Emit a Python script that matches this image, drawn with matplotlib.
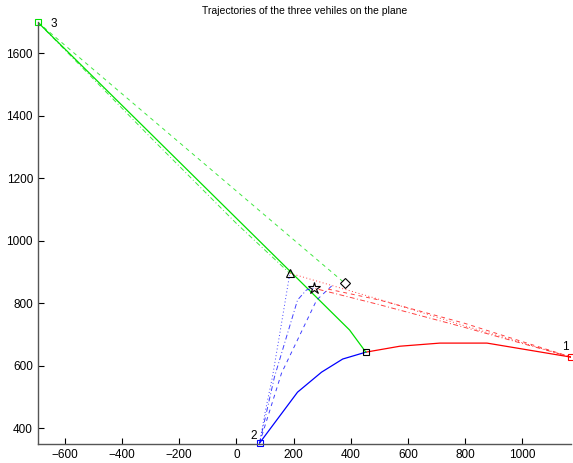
import matplotlib
matplotlib.use("Agg")
import matplotlib.pyplot as plt

# start points of the three vehicles
start_x = [1172, 81, -695]
start_y = [627, 352, 1699]
start_colors = ["red", "blue", "#00e000"]
start_labels = ["1", "2", "3"]

# meeting points
meet_x = [453]
meet_y = [643]
triangle_x, triangle_y = [186], [896]
star_x, star_y = [270], [848]
diamond_x, diamond_y = [379], [864]

# solid trajectories
red_solid_x = [453, 572, 712, 877, 1172]
red_solid_y = [643, 662, 672, 672, 627]
blue_solid_x = [81, 214, 298, 372, 453]
blue_solid_y = [352, 515, 579, 621, 643]
green_solid_x = [-695, 396, 453]
green_solid_y = [1699, 714, 643]

# dotted trajectories (triangle)
blue_dot_x = [81, 102, 126, 154, 186]
blue_dot_y = [352, 458, 563, 714, 890]
red_dot_x = [1172, 800, 500, 186]
red_dot_y = [627, 727, 812, 896]

# dash-dot trajectories (star)
blue_dd_x = [81, 133, 214, 245, 270]
blue_dd_y = [352, 563, 810, 842, 848]
red_dd_x = [1172, 800, 500, 270]
red_dd_y = [627, 722, 795, 848]
green_dd_x = [-695, -300, 0, 186]
green_dd_y = [1699, 1330, 1055, 896]

# dashed trajectories (diamond)
blue_dash_x = [81, 158, 281, 337]
blue_dash_y = [352, 576, 810, 858]
red_dash_x = [1172, 800, 500, 320]
red_dash_y = [627, 735, 810, 845]
green_dash_x = [-695, 379]
green_dash_y = [1699, 864]

plt.rcParams["font.family"] = ["Liberation Sans", "DejaVu Sans"]
fig = plt.figure(figsize=(5.73, 4.63), dpi=100)
ax = fig.add_axes([0.066, 0.041, 0.931, 0.911])

green = "#00e000"
thin = dict(linewidth=0.7, alpha=0.75)
ax.plot(red_solid_x, red_solid_y, color="red", linewidth=0.9)
ax.plot(blue_solid_x, blue_solid_y, color="blue", linewidth=0.9)
ax.plot(green_solid_x, green_solid_y, color=green, linewidth=0.9)

ax.plot(blue_dot_x, blue_dot_y, color="blue", linestyle=(0, (1, 2.5)), **thin)
ax.plot(red_dot_x, red_dot_y, color="red", linestyle=(0, (1, 2.5)), **thin)

ax.plot(blue_dd_x, blue_dd_y, color="blue", linestyle=(0, (5, 2.5, 1, 2.5)), **thin)
ax.plot(red_dd_x, red_dd_y, color="red", linestyle=(0, (5, 2.5, 1, 2.5)), **thin)
ax.plot(green_dd_x, green_dd_y, color=green, linestyle=(0, (5, 2.5, 1, 2.5)), **thin)

ax.plot(blue_dash_x, blue_dash_y, color="blue", linestyle=(0, (4, 4)), **thin)
ax.plot(red_dash_x, red_dash_y, color="red", linestyle=(0, (4, 4)), **thin)
ax.plot(green_dash_x, green_dash_y, color=green, linestyle=(0, (4, 4)), **thin)

for x, y, c, lab in zip(start_x, start_y, start_colors, start_labels):
    ax.plot(x, y, "s", mfc="none", mec=c, ms=5, mew=0.8, clip_on=False)
ax.text(start_x[0] - 8, start_y[0] + 12, start_labels[0], fontsize=8.5, ha="right", va="bottom")
ax.text(start_x[1] - 10, start_y[1] + 2, start_labels[1], fontsize=8.5, ha="right", va="bottom")
ax.text(start_x[2] + 45, start_y[2] - 5, start_labels[2], fontsize=8.5, ha="left", va="center")

ax.plot(meet_x, meet_y, "s", mfc="none", mec="black", ms=5, mew=0.8)
ax.plot(triangle_x, triangle_y, "^", mfc="none", mec="black", ms=6, mew=0.8)
ax.plot(star_x, star_y, "*", mfc="none", mec="black", ms=9, mew=0.8)
ax.plot(diamond_x, diamond_y, "D", mfc="none", mec="black", ms=5, mew=0.8)

ax.set_xlim(-695, 1172)
ax.set_ylim(349, 1699)
ax.set_xticks(range(-600, 1001, 200))
ax.set_yticks(range(400, 1601, 200))
ax.tick_params(direction="in", length=4, labelsize=8.5, colors="black")
for side in ("top", "right"):
    ax.spines[side].set_visible(False)
for side in ("left", "bottom"):
    ax.spines[side].set_color("#555555")
    ax.spines[side].set_linewidth(1.0)
ax.set_title("Trajectories of the three vehiles on the plane", fontsize=7.5, pad=6)

fig.savefig("out.png", dpi=100)
